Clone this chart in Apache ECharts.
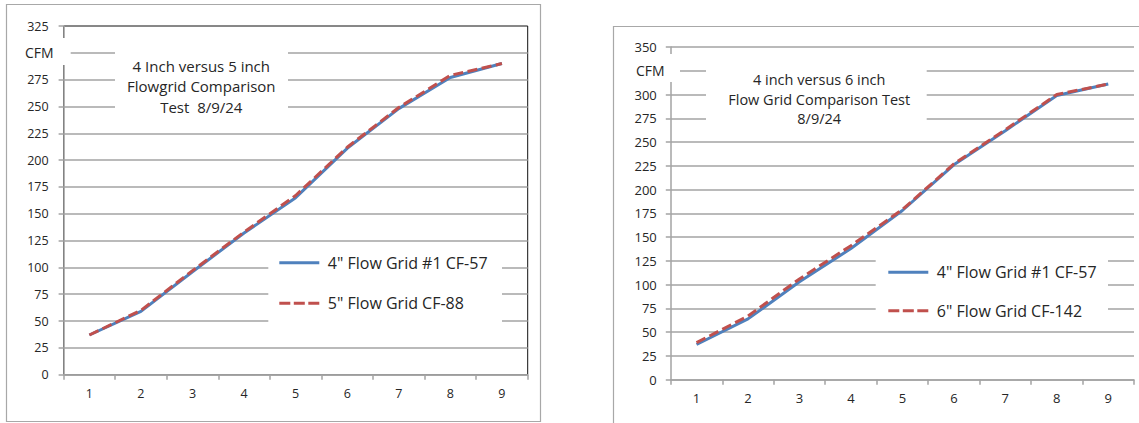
<!DOCTYPE html>
<html>
<head>
<meta charset="utf-8">
<script src="https://cdn.jsdelivr.net/npm/echarts@6/dist/echarts.min.js"></script>
<style>
html,body{margin:0;padding:0;background:#fff;}
#c{width:1139px;height:423px;}
</style>
</head>
<body>
<div id="c"></div>
<script>
// ---- data ----
const categories = ['1', '2', '3', '4', '5', '6', '7', '8', '9'];
const left4inch = [37, 59, 96, 132, 165, 211, 248, 277, 290];
const left5inch = [37, 60, 97, 133, 167, 212, 249, 279, 290];
const right4inch = [37, 64, 103, 138, 178, 226, 262, 299, 311];
const right6inch = [39, 67, 106, 141, 179, 227, 263, 300, 311];
const leftSeriesNames = ['4" Flow Grid #1 CF-57', '5" Flow Grid CF-88'];
const rightSeriesNames = ['4" Flow Grid #1 CF-57 ', '6" Flow Grid CF-142'];
const leftTitle = ['4 Inch versus 5 inch', 'Flowgrid Comparison', 'Test  8/9/24'];
const rightTitle = ['4 inch versus 6 inch', 'Flow Grid Comparison Test', '8/9/24'];
const unitLabel = 'CFM';
const leftYMax = 325, rightYMax = 350, yStep = 25;
const leftHiddenTick = 300, rightHiddenTick = 325;

const FONT = '"Open Sans", "Noto Sans", sans-serif';
const BLUE = '#4F81BD', RED = '#C0504D';
const GRIDC = '#a3a3a3', TXT = '#262626';
const SOLID_ICON = 'path://M0,0H40V3H0Z';
const DASH_ICON = 'path://M0,0H11V3H0Z M14.5,0H25.5V3H14.5Z M29,0H40V3H29Z';

const chart = echarts.init(document.getElementById('c'), null, {renderer: 'svg'});

function yAxis(gi, max, hidden, fs, margin, showMax) {
  return {
    type: 'value', gridIndex: gi, min: 0, max: max, interval: yStep,
    axisLine: {show: true, lineStyle: {color: GRIDC, width: 1.5}},
    axisTick: {show: true, length: 5, lineStyle: {color: GRIDC, width: 1.5}},
    axisLabel: {color: TXT, fontFamily: FONT, fontSize: fs, margin: margin,
      formatter: v => (v === hidden ? '' : String(v))},
    splitLine: {show: true, showMaxLine: showMax, lineStyle: {color: GRIDC, width: 1.5}}
  };
}
function xAxis(gi, fs) {
  return {
    type: 'category', gridIndex: gi, data: categories, boundaryGap: true,
    axisLine: {show: true, lineStyle: {color: GRIDC, width: 1.5}},
    axisTick: {show: true, length: 5, alignWithLabel: false, lineStyle: {color: GRIDC, width: 1.5}},
    axisLabel: {color: TXT, fontFamily: FONT, fontSize: fs, margin: 12}
  };
}
function lineSeries(name, data, xi, color, dashed, z) {
  return {
    type: 'line', name: name, data: data, xAxisIndex: xi, yAxisIndex: xi,
    symbol: 'none', smooth: false, z: z,
    lineStyle: {color: color, width: 3, type: dashed ? [10, 4.5] : 'solid'},
    itemStyle: {color: color},
    emphasis: {disabled: true}
  };
}
function legend(names, left, top, gap) {
  return {
    data: [{name: names[0], icon: SOLID_ICON}, {name: names[1], icon: DASH_ICON}],
    orient: 'vertical', left: left, top: top, padding: 0,
    itemWidth: 41, itemHeight: 3, itemGap: gap,
    selectedMode: false, z: 6,
    textStyle: {color: TXT, fontFamily: FONT, fontSize: 16, lineHeight: 20, padding: [0, 0, 0, 3]}
  };
}

const option = {
  animation: false,
  backgroundColor: '#fff',
  grid: [
    {left: 63.6, right: 1139 - 527.7, top: 26, bottom: 423 - 374.7, show: true,
     borderColor: '#111', borderWidth: 1, backgroundColor: 'transparent'},
    {left: 670.8, right: 5, top: 47, bottom: 423 - 379.7}
  ],
  xAxis: [xAxis(0, 12.5), xAxis(1, 13)],
  yAxis: [yAxis(0, leftYMax, leftHiddenTick, 12.5, 15, false),
          yAxis(1, rightYMax, rightHiddenTick, 13, 14, true)],
  legend: [legend(leftSeriesNames, 279.3, 252.7, 20.6),
           legend(rightSeriesNames, 888.3, 262.3, 18.4)],
  series: [
    lineSeries(leftSeriesNames[0], left4inch, 0, BLUE, false, 2),
    lineSeries(leftSeriesNames[1], left5inch, 0, RED, true, 3),
    lineSeries(rightSeriesNames[0], right4inch, 1, BLUE, false, 2),
    lineSeries(rightSeriesNames[1], right6inch, 1, RED, true, 3)
  ],
  graphic: [
    // outer chart frames
    {type: 'rect', z: 1, silent: true, shape: {x: 6.5, y: 4.5, width: 534, height: 417},
     style: {fill: 'none', stroke: '#a8a8a8', lineWidth: 1.2}},
    {type: 'rect', z: 1, silent: true, shape: {x: 613.5, y: 26.5, width: 540, height: 420},
     style: {fill: 'none', stroke: '#a8a8a8', lineWidth: 1.2}},
    // white boxes behind title, unit label and legend
    {type: 'rect', z: 5, silent: true, shape: {x: 115, y: 36, width: 173, height: 84}, style: {fill: '#fff'}},
    {type: 'rect', z: 5, silent: true, shape: {x: 20, y: 38, width: 50.7, height: 27}, style: {fill: '#fff'}},
    {type: 'rect', z: 5, silent: true, shape: {x: 268.3, y: 248, width: 233.7, height: 86}, style: {fill: '#fff'}},
    {type: 'rect', z: 5, silent: true, shape: {x: 706, y: 56, width: 220.7, height: 74}, style: {fill: '#fff'}},
    {type: 'rect', z: 5, silent: true, shape: {x: 628, y: 54, width: 52, height: 28}, style: {fill: '#fff'}},
    {type: 'rect', z: 5, silent: true, shape: {x: 875.7, y: 250, width: 232.3, height: 70}, style: {fill: '#fff'}},
    // titles
    {type: 'text', z: 7, silent: true, x: 201.3, y: 56.2,
     style: {text: leftTitle.join('\n'), align: 'center', verticalAlign: 'top', lineHeight: 20.2,
             fontFamily: FONT, fontSize: 15, fill: TXT}},
    {type: 'text', z: 7, silent: true, x: 819.2, y: 70.4,
     style: {text: rightTitle.join('\n'), align: 'center', verticalAlign: 'top', lineHeight: 19.2,
             fontFamily: FONT, fontSize: 14.5, fill: TXT}},
    // unit labels
    {type: 'text', z: 7, silent: true, x: 39.2, y: 52.3,
     style: {text: unitLabel, align: 'center', verticalAlign: 'middle', fontFamily: FONT, fontSize: 14, fill: TXT}},
    {type: 'text', z: 7, silent: true, x: 650.3, y: 70.7,
     style: {text: unitLabel, align: 'center', verticalAlign: 'middle', fontFamily: FONT, fontSize: 14, fill: TXT}}
  ]
};
chart.setOption(option);
</script>
</body>
</html>
